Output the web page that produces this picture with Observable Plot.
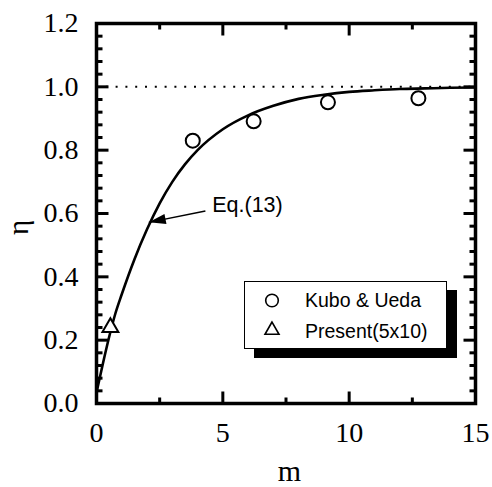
<!DOCTYPE html>
<html><head><meta charset="utf-8">
<script src="https://cdn.jsdelivr.net/npm/d3@7"></script>
<script src="https://cdn.jsdelivr.net/npm/@observablehq/plot@0.6"></script>
<style>
body{margin:0;background:#fff}
#wrap{position:relative;width:492px;height:487px;background:#fff}
#legend{position:absolute;left:244px;top:281px;width:201px;height:66px;border:1px solid #000;background:#fff;box-shadow:10px 9px 0 #000}
#legend svg{display:block}
</style></head><body>
<div id="wrap"></div>
<script>
// ---- data ----
const curveM   = [0, 0.25, 0.5, 0.75, 1, 1.5, 2, 2.5, 3, 3.5, 4, 5, 6, 7, 8, 9, 10, 11, 12, 13, 14, 15];
const curveEta = [0.035, 0.125, 0.21, 0.285, 0.345, 0.455, 0.55, 0.632, 0.70, 0.755, 0.80, 0.866, 0.91, 0.94, 0.962, 0.975, 0.984, 0.989, 0.993, 0.995, 0.997, 0.998];
const kuboM    = [3.81, 6.22, 9.16, 12.74];
const kuboEta  = [0.830, 0.891, 0.951, 0.964];
const presentM   = [0.55];
const presentEta = [0.24];
const limitEta = [1.0];
const xMajor = [0, 5, 10, 15];
const xMinor = [2.5, 7.5, 12.5];
const yMajor = [0, 0.2, 0.4, 0.6, 0.8, 1.0, 1.2];
const yMinor = [0.04, 0.08, 0.12, 0.16, 0.24, 0.28, 0.32, 0.36, 0.44, 0.48, 0.52, 0.56, 0.64, 0.68, 0.72, 0.76, 0.84, 0.88, 0.92, 0.96, 1.04, 1.08, 1.12, 1.16];
const xLabel = "m";
const yLabel = "η";
const legendLabels = ["Kubo & Ueda", "Present(5x10)"];
const eqLabel = "Eq.(13)";
// annotation anchor (data units) for the Eq.(13) label and its arrow
const eqText = {m: 4.58, eta: 0.626};
const eqTail = {m: 4.31, eta: 0.608};
const eqTip  = {m: 2.07, eta: 0.572};

const curve = curveM.map((m, i) => ({m, eta: curveEta[i]}));
const kubo = kuboM.map((m, i) => ({m, eta: kuboEta[i]}));
const present = presentM.map((m, i) => ({m, eta: presentEta[i]}));

const serif = "'Liberation Serif','Times New Roman',serif";
const sans = "'Liberation Sans',Arial,sans-serif";
const tickShape = {draw(ctx, l) { ctx.moveTo(0, 0); ctx.lineTo(0, -l); }};

function ticks(values, len, side, rotate) {
  const key = (side === "bottom" || side === "top") ? "x" : "y";
  return Plot.vector(values, {
    [key]: d => d, frameAnchor: side, rotate, length: len, anchor: "start",
    shape: tickShape, stroke: "black", fill: "none", strokeWidth: 3, strokeLinecap: "butt"
  });
}

const chart = Plot.plot({
  width: 492, height: 487,
  marginLeft: 96, marginRight: 17, marginTop: 23, marginBottom: 84,
  x: {domain: [0, 15], axis: null},
  y: {domain: [0, 1.2], axis: null},
  style: {background: "white", overflow: "visible"},
  marks: [
    Plot.ruleY(limitEta, {x1: 0, x2: 15, stroke: "black", strokeWidth: 2, strokeDasharray: "2,7.8"}),
    Plot.line(curve, {x: "m", y: "eta", stroke: "black", strokeWidth: 2.6, curve: "monotone-x"}),
    Plot.link([eqTail], {x1: "m", y1: "eta", x2: () => eqTip.m, y2: () => eqTip.eta, stroke: "black", strokeWidth: 1.5}),
    Plot.vector([eqTip], {x: "m", y: "eta", rotate: 258.5, length: 17, r: 5, anchor: "end", shape: "spike", fill: "black", stroke: "none"}),
    Plot.text([eqLabel], {x: () => eqText.m, y: () => eqText.eta, text: d => d, textAnchor: "start", lineAnchor: "middle", fontSize: 21.5, fontFamily: sans, fill: "black"}),
    Plot.dot(kubo, {x: "m", y: "eta", r: 7, stroke: "black", strokeWidth: 2, fill: "white", symbol: "circle"}),
    Plot.dot(present, {x: "m", y: "eta", r: 5.9, stroke: "black", strokeWidth: 2, fill: "white", symbol: "triangle"}),
    Plot.frame({stroke: "black", strokeWidth: 3.5}),
    ticks(xMajor, 12, "bottom", 0),
    ticks(xMinor, 6, "bottom", 0),
    ticks(xMajor, 12, "top", 180),
    ticks(xMinor, 6, "top", 180),
    ticks(yMajor, 12, "left", 90),
    ticks(yMinor, 6, "left", 90),
    ticks(yMajor, 12, "right", 270),
    ticks(yMinor, 6, "right", 270),
    Plot.text(xMajor, {x: d => d, frameAnchor: "bottom", dy: 30, text: d => String(d), lineAnchor: "middle", fontSize: 28, fontFamily: serif, fill: "black"}),
    Plot.text(yMajor, {y: d => d, frameAnchor: "left", dx: -18, textAnchor: "end", text: d => d3.format(".1f")(d), lineAnchor: "middle", fontSize: 28, fontFamily: serif, fill: "black"}),
    Plot.text([xLabel], {frameAnchor: "bottom", dx: 3.5, dy: 67.4, text: d => d, lineAnchor: "middle", fontSize: 30, fontFamily: serif, fill: "black"}),
    Plot.text([yLabel], {frameAnchor: "left", dx: -77.3, dy: 21.5, rotate: -90, text: d => d, lineAnchor: "middle", fontSize: 29, fontFamily: serif, fill: "black"})
  ]
});

const wrap = document.getElementById("wrap");
wrap.appendChild(chart);

// legend
const legend = document.createElement("div");
legend.id = "legend";
legend.innerHTML = `<svg width="201" height="66" font-family="${sans.replace(/"/g, "")}" font-size="19.5">
  <circle cx="27" cy="18.5" r="6.3" fill="white" stroke="black" stroke-width="1.6"/>
  <text x="60" y="24.7">${legendLabels[0].replace("&", "&amp;")}</text>
  <path d="M27,40 L20,52.3 L34,52.3 Z" fill="white" stroke="black" stroke-width="1.6" stroke-linejoin="miter"/>
  <text x="60" y="56.3">${legendLabels[1]}</text>
</svg>`;
wrap.appendChild(legend);
</script>
</body></html>
